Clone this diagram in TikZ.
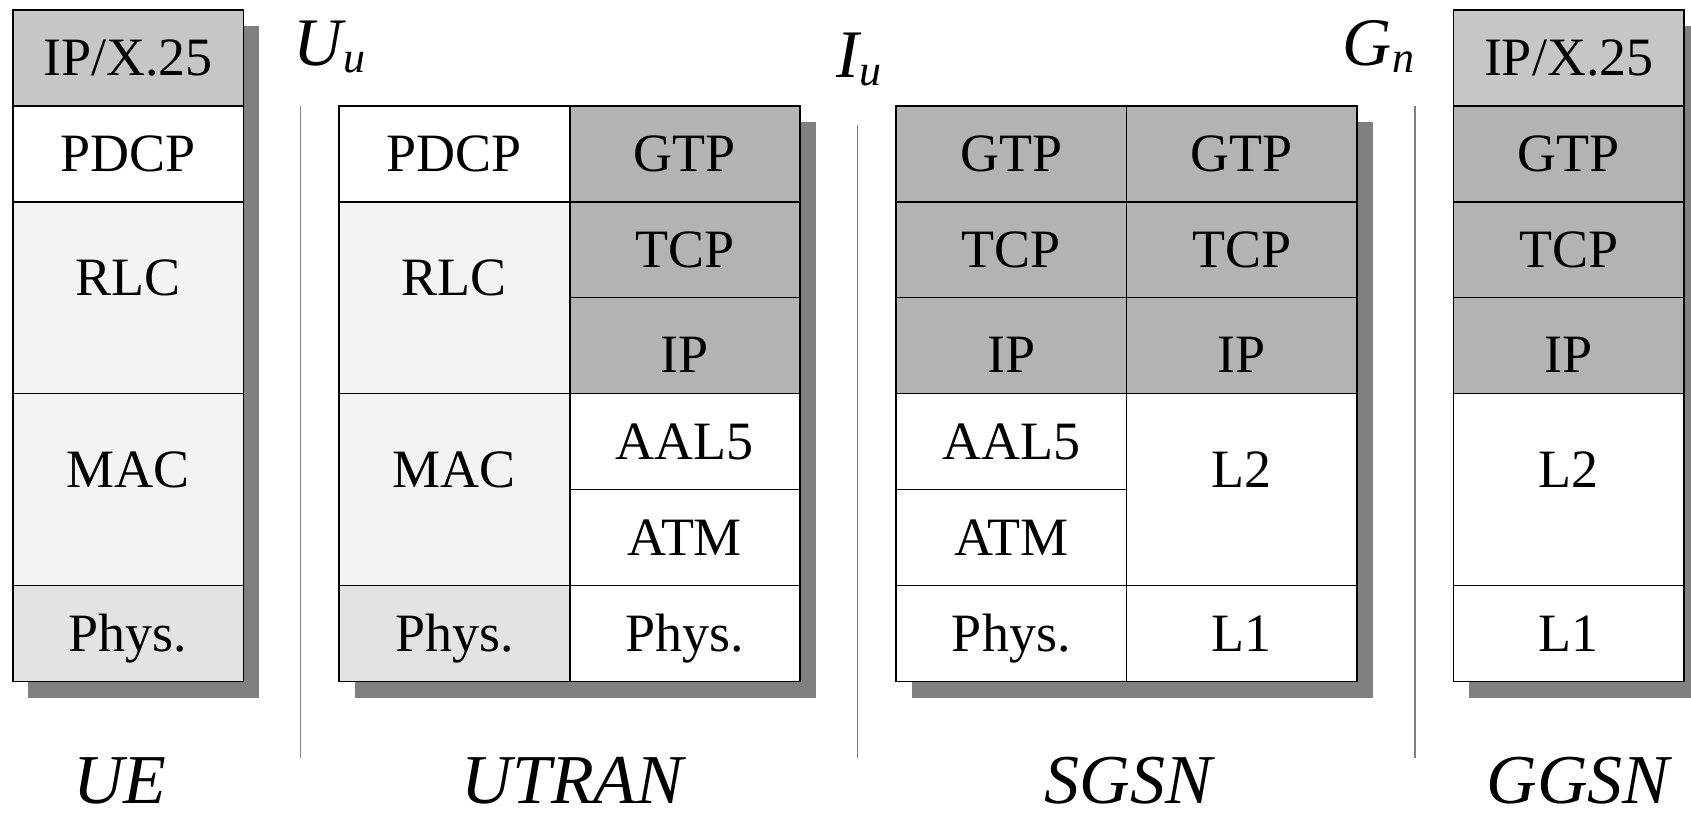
\documentclass[tikz,border=0pt]{standalone}
\usepackage{fontspec}
\setmainfont{Liberation Serif}

\definecolor{shadowgray}{HTML}{808080}
\definecolor{appgray}{HTML}{C6C6C6}
\definecolor{tunnelgray}{HTML}{B3B3B3}
\definecolor{radiogray}{HTML}{F3F3F3}
\definecolor{physgray}{HTML}{E3E3E3}
\definecolor{linegray}{HTML}{7F7F7F}

\tikzset{
  cellbox/.style={draw=black, line width=1.6pt},
  stackshadow/.style={fill=shadowgray, draw=none},
  celltext/.style={anchor=base, inner sep=0pt, font=\fontsize{54}{60}\selectfont},
  entity/.style={anchor=base, inner sep=0pt, text depth=0pt, font=\fontsize{70}{76}\selectfont\itshape},
  iface/.style={anchor=base west, inner sep=0pt, font=\fontsize{68}{75}\selectfont\itshape},
  sepline/.style={draw=linegray, line width=1.3pt},
}

% one protocol layer: x1, y1, x2, y2, fill, node name, text, baseline
\newcommand{\layer}[8]{%
  \path[cellbox, fill=#5] (#1,#2) rectangle (#3,#4);
  \node[celltext] (#6) at ({(#1+#3)/2},#8) {#7};
}
\newcommand{\ifacelabel}[2]{#1\kern1pt\raisebox{-7.7pt}{\fontsize{44}{46}\selectfont\itshape #2}}

\begin{document}
\begin{tikzpicture}[x=1pt,y=-1pt]
\useasboundingbox (0,0) rectangle (1691,817);

% row boundaries
\def\ra{9.7}\def\rb{105.7}\def\rc{201.7}\def\rd{297.6}
\def\re{393.6}\def\rf{489.6}\def\rg{585.6}\def\rh{681.6}
% text baselines
\def\bA{75.4}\def\bB{171.4}\def\bC{267.3}\def\bD{372.5}
\def\bRLC{295.7}\def\bE{459.3}\def\bMAC{487}\def\bF{555.3}\def\bG{651.3}

% drop shadows
\path[stackshadow] (28.4,25.7) rectangle (258.9,697.6);
\path[stackshadow] (354.7,121.7) rectangle (815.7,697.6);
\path[stackshadow] (911.5,121.7) rectangle (1372.5,697.6);
\path[stackshadow] (1469,25.7) rectangle (1699.5,697.6);

% UE
\layer{12.9}{\ra}{243.4}{\rb}{appgray}{ue-app}{IP/X.25}{\bA}
\layer{12.9}{\rb}{243.4}{\rc}{white}{ue-pdcp}{PDCP}{\bB}
\layer{12.9}{\rc}{243.4}{\re}{radiogray}{ue-rlc}{RLC}{\bRLC}
\layer{12.9}{\re}{243.4}{\rg}{radiogray}{ue-mac}{MAC}{\bMAC}
\layer{12.9}{\rg}{243.4}{\rh}{physgray}{ue-phy}{Phys.}{\bG}

% UTRAN, radio side
\layer{339.2}{\rb}{569.7}{\rc}{white}{ut-pdcp}{PDCP}{\bB}
\layer{339.2}{\rc}{569.7}{\re}{radiogray}{ut-rlc}{RLC}{\bRLC}
\layer{339.2}{\re}{569.7}{\rg}{radiogray}{ut-mac}{MAC}{\bMAC}
\layer{339.2}{\rg}{569.7}{\rh}{physgray}{ut-phy}{Phys.}{\bG}
% UTRAN, Iu side
\layer{569.7}{\rb}{800.2}{\rc}{tunnelgray}{ut-gtp}{GTP}{\bB}
\layer{569.7}{\rc}{800.2}{\rd}{tunnelgray}{ut-tcp}{TCP}{\bC}
\layer{569.7}{\rd}{800.2}{\re}{tunnelgray}{ut-ip}{IP}{\bD}
\layer{569.7}{\re}{800.2}{\rf}{white}{ut-aal}{AAL5}{\bE}
\layer{569.7}{\rf}{800.2}{\rg}{white}{ut-atm}{ATM}{\bF}
\layer{569.7}{\rg}{800.2}{\rh}{white}{ut-phy2}{Phys.}{\bG}

% SGSN, Iu side
\layer{896}{\rb}{1126.5}{\rc}{tunnelgray}{sg-gtp}{GTP}{\bB}
\layer{896}{\rc}{1126.5}{\rd}{tunnelgray}{sg-tcp}{TCP}{\bC}
\layer{896}{\rd}{1126.5}{\re}{tunnelgray}{sg-ip}{IP}{\bD}
\layer{896}{\re}{1126.5}{\rf}{white}{sg-aal}{AAL5}{\bE}
\layer{896}{\rf}{1126.5}{\rg}{white}{sg-atm}{ATM}{\bF}
\layer{896}{\rg}{1126.5}{\rh}{white}{sg-phy}{Phys.}{\bG}
% SGSN, Gn side
\layer{1126.5}{\rb}{1357}{\rc}{tunnelgray}{sg-gtp2}{GTP}{\bB}
\layer{1126.5}{\rc}{1357}{\rd}{tunnelgray}{sg-tcp2}{TCP}{\bC}
\layer{1126.5}{\rd}{1357}{\re}{tunnelgray}{sg-ip2}{IP}{\bD}
\layer{1126.5}{\re}{1357}{\rg}{white}{sg-l2}{L2}{\bMAC}
\layer{1126.5}{\rg}{1357}{\rh}{white}{sg-l1}{L1}{\bG}

% GGSN
\layer{1453.5}{\ra}{1684}{\rb}{appgray}{gg-app}{IP/X.25}{\bA}
\layer{1453.5}{\rb}{1684}{\rc}{tunnelgray}{gg-gtp}{GTP}{\bB}
\layer{1453.5}{\rc}{1684}{\rd}{tunnelgray}{gg-tcp}{TCP}{\bC}
\layer{1453.5}{\rd}{1684}{\re}{tunnelgray}{gg-ip}{IP}{\bD}
\layer{1453.5}{\re}{1684}{\rg}{white}{gg-l2}{L2}{\bMAC}
\layer{1453.5}{\rg}{1684}{\rh}{white}{gg-l1}{L1}{\bG}

% interface separators
\coordinate (uu-top) at (300.5,105.7); \coordinate (uu-bot) at (300.5,758);
\coordinate (iu-top) at (857.5,125);   \coordinate (iu-bot) at (857.5,758);
\coordinate (gn-top) at (1415,105.7);  \coordinate (gn-bot) at (1415,758);
\draw[sepline] (uu-top) -- (uu-bot);
\draw[sepline] (iu-top) -- (iu-bot);
\draw[sepline] (gn-top) -- (gn-bot);

% interface names
\node[iface] (uu) at (293,65) {\ifacelabel{U}{u}};
\node[iface] (iu) at (836,77.3) {\ifacelabel{I}{u}};
\node[iface] (gn) at (1342,65) {\ifacelabel{G}{n}};

% network elements
\node[entity] (ue) at (120,803) {UE};
\node[entity] (utran) at (572.5,803) {UTRAN};
\node[entity] (sgsn) at (1128.5,803) {SGSN};
\node[entity] (ggsn) at (1578,803) {GGSN};
\end{tikzpicture}
\end{document}
